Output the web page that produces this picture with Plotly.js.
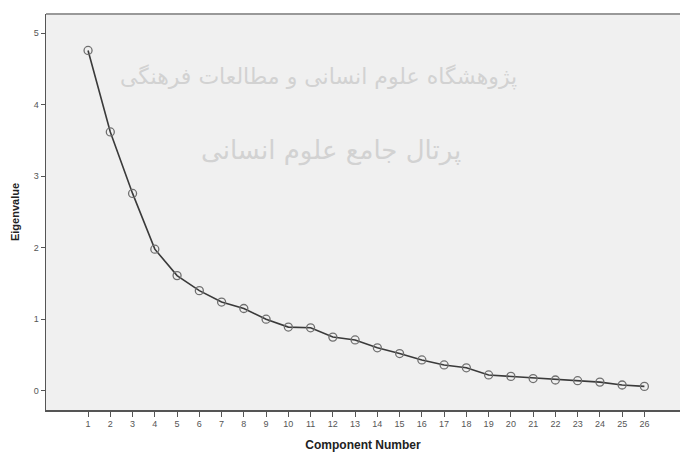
<!DOCTYPE html>
<html><head><meta charset="utf-8">
<script src="https://cdn.plot.ly/plotly-3.0.1.min.js"></script>
<style>html,body{margin:0;padding:0;background:#fff}#c{width:680px;height:461px}</style>
</head><body><div id="c"></div>
<script>
const components = [1,2,3,4,5,6,7,8,9,10,11,12,13,14,15,16,17,18,19,20,21,22,23,24,25,26];
const eigenvalues = [4.76,3.62,2.76,1.98,1.61,1.40,1.24,1.15,1.00,0.89,0.88,0.75,0.71,0.60,0.52,0.43,0.36,0.32,0.22,0.20,0.17,0.15,0.14,0.12,0.08,0.06];
const yTicks = [0,1,2,3,4,5];
const watermark1 = 'پژوهشگاه علوم انسانی و مطالعات فرهنگی';
const watermark2 = 'پرتال جامع علوم انسانی';

Plotly.newPlot('c', [{
  x: components, y: eigenvalues, type: 'scatter', mode: 'lines+markers',
  line: {color: '#3a3a3a', width: 1.6},
  marker: {symbol: 'circle-open', size: 8, color: '#707070', line: {width: 1.3, color: '#707070'}},
  cliponaxis: false
}], {
  width: 680, height: 461,
  margin: {l: 46, r: 0, t: 14, b: 51},
  paper_bgcolor: '#ffffff', plot_bgcolor: '#f0f0f0',
  showlegend: false,
  font: {family: 'Arial, Liberation Sans, sans-serif', color: '#444'},
  xaxis: {
    range: [-0.89, 27.6], tickmode: 'array', tickvals: components, ticktext: components.map(String),
    ticks: 'outside', ticklen: 5, tickwidth: 1, tickcolor: '#555',
    showgrid: false, zeroline: false, showline: true, linecolor: '#555', linewidth: 1.5,
    tickfont: {size: 9, color: '#555'},
    title: {text: '<b>Component Number</b>', font: {size: 12, color: '#222'}, standoff: 12}
  },
  yaxis: {
    range: [-0.27, 5.27], tickmode: 'array', tickvals: yTicks,
    ticks: 'outside', ticklen: 4, tickwidth: 1, tickcolor: '#555',
    showgrid: false, zeroline: false, showline: true, linecolor: '#555', linewidth: 1.5,
    tickfont: {size: 9, color: '#555'},
    title: {text: '<b>Eigenvalue</b>', font: {size: 11, color: '#222'}, standoff: 12}
  },
  shapes: [{type: 'line', xref: 'paper', yref: 'paper', x0: 0, x1: 1, y0: 1, y1: 1, line: {color: '#999', width: 2}}],
  annotations: [
    {text: watermark1, xref: 'paper', yref: 'paper', x: 0.43, y: 0.88, showarrow: false,
     font: {size: 22, color: '#d2d2d2', family: 'DejaVu Sans, Noto Sans'}},
    {text: watermark2, xref: 'paper', yref: 'paper', x: 0.45, y: 0.655, showarrow: false,
     font: {size: 26, color: '#d2d2d2', family: 'DejaVu Sans, Noto Sans'}}
  ]
}, {displayModeBar: false, staticPlot: true});
</script></body></html>
